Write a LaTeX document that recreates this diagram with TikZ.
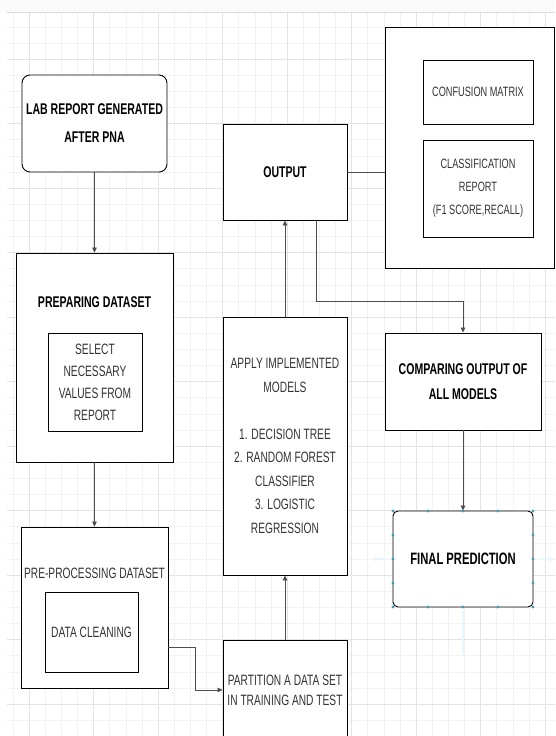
\documentclass[tikz,border=0pt]{standalone}
\usepackage{fontspec}
\setmainfont[FakeStretch=0.68]{Liberation Sans}
\usetikzlibrary{arrows.meta}

\begin{document}
\begin{tikzpicture}[x=1pt,y=-1pt,
	box/.style={draw=black,line width=0.9pt,fill=white,align=center,inner sep=0pt,text=black!80,font=\fontsize{15}{22}\selectfont},
	boldtext/.style={text=black,font=\fontsize{15.5}{25}\selectfont\bfseries},
	smalltext/.style={font=\fontsize{13.5}{23}\selectfont},
	label/.style={align=center,inner sep=0pt},
	arr/.style={draw=black!70,line width=0.8pt,-{Triangle[length=5pt,width=4.5pt]}},
	link/.style={draw=black!70,line width=0.8pt},
	handle/.style={fill=blue!25!cyan!45!gray},
	hover/.style={draw=cyan!10,line width=2pt,-{Triangle[length=4pt,width=6pt]}}]
	\useasboundingbox (0,0) rectangle (555,736);
	\fill[black!2] (0,0) rectangle (555,12);
	\begin{scope}[y=1pt,xshift=29pt,yshift=5.5pt]
		\draw[black!5,line width=0.4pt,step=16.125] (-22,-741.5) grid (526,-17.5);
		\draw[black!11,line width=0.5pt,step=64.5] (-22,-741.5) grid (526,-17.5);
	\end{scope}
	\draw[black!14,line width=0.6pt] (7,12) -- (555,12);

	\node[box,boldtext,rounded corners=8pt,minimum width=145,minimum height=97,text depth=-4pt,font=\fontsize{15.5}{28}\selectfont\bfseries] (lab) at (94.5,123.5) {LAB REPORT GENERATED\\AFTER PNA};

	\node[box,minimum width=157,minimum height=209] (prep) at (94.5,357.5) {};
	\node[label,boldtext] (preptitle) at (94.5,302) {PREPARING DATASET};
	\node[box,minimum width=94,minimum height=98] (select) at (95,382) {SELECT\\NECESSARY\\VALUES FROM\\REPORT};

	\node[box,minimum width=147,minimum height=161] (pre) at (94.5,607.5) {};
	\node[label,text=black!80,font=\fontsize{15}{22}\selectfont] (pretitle) at (94.5,573) {PRE-PROCESSING DATASET};
	\node[box,minimum width=93,minimum height=80] (clean) at (91.5,632) {DATA CLEANING};

	\node[box,minimum width=124,minimum height=100,font=\fontsize{15}{20}\selectfont] (part) at (285,690) {PARTITION A DATA SET\\IN TRAINING AND TEST};
	\node[box,minimum width=124,minimum height=258,font=\fontsize{15}{23.5}\selectfont] (apply) at (285,446) {APPLY IMPLEMENTED\\MODELS\\[23.5pt]1. DECISION TREE\\2. RANDOM FOREST\\CLASSIFIER\\3. LOGISTIC\\REGRESSION};
	\node[box,boldtext,minimum width=124,minimum height=96] (out) at (285,172) {OUTPUT};

	\node[box,minimum width=169,minimum height=241] (res) at (469.5,147.5) {};
	\node[box,smalltext,minimum width=110,minimum height=64] (conf) at (478,92) {CONFUSION MATRIX};
	\node[box,smalltext,minimum width=110,minimum height=97] (clsrep) at (478,188.5) {CLASSIFICATION\\REPORT\\(F1 SCORE,RECALL)};

	\node[box,boldtext,minimum width=156,minimum height=97] (comp) at (463,381.5) {COMPARING OUTPUT OF\\ALL MODELS};
	\node[box,boldtext,rounded corners=5pt,minimum width=140,minimum height=96,font=\fontsize{16.5}{25}\selectfont\bfseries] (final) at (463,559) {FINAL PREDICTION};

	\draw[arr] (lab) -- (prep);
	\draw[arr] (prep) -- (pre);
	\draw[arr] ([yshift=-40pt]pre.east) -- ++(27,0) |- (part.west);
	\draw[arr] (part) -- (apply);
	\draw[arr] (apply) -- (out);
	\draw[link] (out.east) -- (out.east -| res.west);
	\draw[arr] ([xshift=31pt]out.south) -- ++(0,81) -| (comp.north);
	\draw[arr] (comp) -- (final);

	\draw[hover] ([xshift=-6pt]final.west) -- ++(-14,0);
	\draw[hover] ([xshift=6pt]final.east) -- ++(14,0);
	\draw[draw=cyan!10,line width=1.5pt] ([yshift=-4pt]final.south) -- ++(0,44);
	\fill[handle] (393,511) circle (1.6) (428,511) circle (1.6) (463,511) circle (1.6) (498,511) circle (1.6) (533,511) circle (1.6)
		(393,607) circle (1.6) (428,607) circle (1.6) (463,607) circle (1.6) (498,607) circle (1.6) (533,607) circle (1.6)
		(393,535) circle (1.6) (393,559) circle (1.6) (393,583) circle (1.6)
		(533,535) circle (1.6) (533,559) circle (1.6) (533,583) circle (1.6);
\end{tikzpicture}
\end{document}
